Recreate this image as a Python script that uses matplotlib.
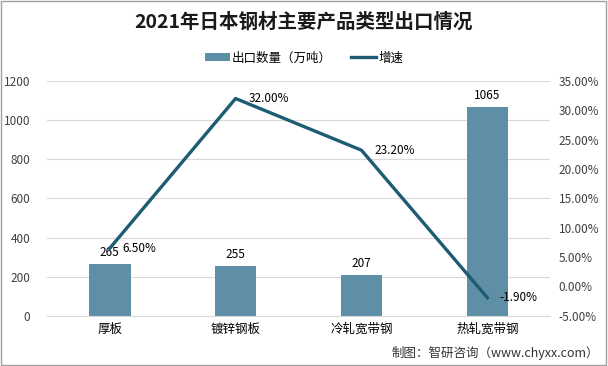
import matplotlib.pyplot as plt
import numpy as np

plt.rcParams['font.family'] = ['Noto Sans CJK SC', 'DejaVu Sans']

# 数据
categories = ['厚板', '镀锌钢板', '冷轧宽带钢', '热轧宽带钢']
export_volume = [265, 255, 207, 1065]
growth_rate = [6.50, 32.00, 23.20, -1.90]

bar_color = '#5f8fa6'
line_color = '#1d5c72'
grid_color = '#d9d9d9'
text_color = '#404040'

fig = plt.figure(figsize=(6.08, 3.66), dpi=100)
ax = fig.add_axes([0.077, 0.137, 0.828, 0.642])
ax2 = ax.twinx()

x = np.arange(len(categories))
bars = ax.bar(x, export_volume, width=0.33, color=bar_color, label='出口数量（万吨）', zorder=2)
ax.set_ylim(0, 1200)
ax.set_yticks(np.arange(0, 1201, 200))
ax.set_xlim(-0.5, len(categories) - 0.5)
ax.set_xticks(x)
ax.set_xticklabels(categories, fontsize=9, color='black')
ax.yaxis.grid(True, color=grid_color, linewidth=0.8, zorder=0)
ax.set_axisbelow(True)
ax.tick_params(axis='y', labelsize=8.5, colors=text_color, length=0, pad=12)
ax.tick_params(axis='x', length=0, pad=5)
for s in ax.spines.values():
    s.set_visible(False)
ax.spines['bottom'].set_visible(True)
ax.spines['bottom'].set_color(grid_color)

for xi, v in zip(x, export_volume):
    ax.text(xi, v + 25, str(v), ha='center', va='bottom', fontsize=8.5, color='black')

line, = ax2.plot(x, growth_rate, color=line_color, linewidth=2.4, label='增速', zorder=3)
ax2.set_ylim(-5, 35)
ax2.set_yticks(np.arange(-5, 36, 5))
ax2.set_yticklabels([f'{t:.2f}%' for t in np.arange(-5, 36, 5)])
ax2.tick_params(axis='y', labelsize=8.5, colors=text_color, length=0, pad=6)
for s in ax2.spines.values():
    s.set_visible(False)

for xi, v in zip(x, growth_rate):
    ax2.text(xi + 0.1, v, f'{v:.2f}%', ha='left', va='center', fontsize=8.5, color='black')

fig.text(0.5, 0.94, '2021年日本钢材主要产品类型出口情况', ha='center', va='center',
         fontsize=14, fontweight='bold', color='#1a1a1a')

fig.legend([bars, line], ['出口数量（万吨）', '增速'], loc='center', bbox_to_anchor=(0.5, 0.842),
           ncol=2, frameon=False, fontsize=9, handlelength=2.0, columnspacing=1.5,
           handletextpad=0.2)

fig.text(0.985, 0.035, '制图：智研咨询（www.chyxx.com）', ha='right', va='center',
         fontsize=9, color='#333333')

# 外边框
fig.patches.append(plt.Rectangle((0.002, 0.003), 0.995, 0.994, transform=fig.transFigure,
                                 fill=False, edgecolor='#a0a0a0', linewidth=1))

fig.savefig('out.png', dpi=100)
